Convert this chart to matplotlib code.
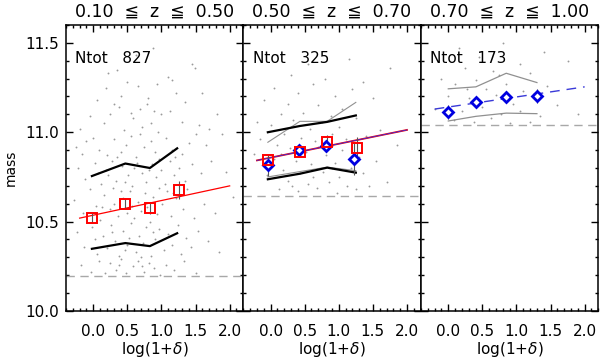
import matplotlib
matplotlib.use("Agg")
import matplotlib.pyplot as plt
import numpy as np
from matplotlib.ticker import MultipleLocator, FormatStrFormatter

plt.rcParams["font.family"] = "DejaVu Sans"
plt.rcParams["axes.linewidth"] = 1.1

# redshift bins
titles = ["0.10  \u2266  z  \u2266  0.50", "0.50  \u2266  z  \u2266  0.70", "0.70  \u2266  z  \u2266  1.00"]
ntot = [827, 325, 173]
mass_cut = [10.195, 10.645, 11.04]

# binned medians (red squares)
red_x1 = [-0.02, 0.47, 0.83, 1.25]
red_y1 = [10.52, 10.60, 10.575, 10.675]
red_e1 = [0.03, 0.03, 0.03, 0.05]
red_x2 = [-0.04, 0.43, 0.83, 1.27]
red_y2 = [10.843, 10.889, 10.944, 10.911]
red_e2 = [0.03, 0.02, 0.04, 0.06]

# binned medians (blue diamonds)
blue_x2 = [-0.04, 0.42, 0.82, 1.22]
blue_y2 = [10.815, 10.90, 10.922, 10.852]
blue_e2 = [0.06, 0.03, 0.03, 0.09]
blue_x3 = [0.0, 0.405, 0.85, 1.30]
blue_y3 = [11.115, 11.167, 11.198, 11.204]
blue_e3 = [0.04, 0.02, 0.03, 0.04]

# percentile curves
pc_x1 = [-0.02, 0.47, 0.83, 1.23]
hi_1 = [10.755, 10.825, 10.80, 10.91]
lo_1 = [10.348, 10.38, 10.363, 10.435]
pc_x2 = [-0.04, 0.43, 0.83, 1.25]
hi_2 = [11.00, 11.035, 11.058, 11.094]
lo_2 = [10.737, 10.768, 10.802, 10.774]
ghi_2 = [10.944, 11.061, 11.061, 11.167]
glo_2 = [10.75, 10.78, 10.805, 10.785]
pc_x3 = [0.0, 0.405, 0.85, 1.30]
ghi_3 = [11.243, 11.254, 11.33, 11.278]
glo_3 = [11.063, 11.089, 11.107, 11.104]

# linear fits (intercept, slope)
fit1 = (10.536, 0.082)
fit2 = (10.858, 0.0775)
fit3 = (11.141, 0.0565)
fit_range = (-0.2, 2.0)

# galaxies (subset)
pts1 = np.array([
    (1.45, 11.38), (1.49, 11.36), (0.22, 11.33), (0.62, 11.43), (1.10, 11.31), (0.35, 11.35), (0.88, 11.47),
    (0.19, 11.25), (0.65, 11.26), (0.94, 11.27), (1.15, 11.29), (1.21, 11.22), (1.60, 11.22), (0.41, 11.20),
    (0.05, 11.18), (0.80, 11.19), (1.35, 11.17), (0.50, 11.28), (0.30, 11.16),
    (1.82, 11.10), (0.37, 11.14), (0.79, 11.16), (0.89, 11.12), (0.58, 11.08), (0.72, 11.03), (1.00, 11.10),
    (0.15, 11.05), (-0.05, 11.09), (1.30, 11.06), (1.55, 11.04), (0.45, 11.01), (0.95, 11.00), (1.12, 11.12),
    (0.25, 11.10), (0.68, 11.13), (1.70, 11.02), (-0.20, 11.02), (0.85, 11.05), (0.55, 11.11),
    (1.89, 10.99), (1.06, 10.97), (1.50, 10.99), (1.65, 10.93), (-0.10, 10.95), (-0.17, 10.88), (0.09, 10.90),
    (0.48, 10.93), (0.62, 10.86), (1.30, 10.88), (0.97, 10.85), (0.30, 10.96), (0.75, 10.92), (0.20, 10.87),
    (0.55, 10.98), (1.15, 10.90), (0.40, 10.89), (0.85, 10.95), (1.40, 10.94), (0.00, 10.97), (0.68, 10.99),
    (1.20, 10.86), (-0.25, 10.92), (0.35, 10.86), (0.90, 10.89),
    (-0.22, 10.80), (-0.12, 10.74), (0.03, 10.83), (0.12, 10.71), (0.18, 10.79), (0.27, 10.84), (0.33, 10.73),
    (0.42, 10.81), (0.51, 10.76), (0.57, 10.70), (0.64, 10.83), (0.71, 10.77), (0.78, 10.72), (0.86, 10.82),
    (0.92, 10.75), (0.99, 10.79), (1.05, 10.71), (1.13, 10.84), (1.18, 10.76), (1.26, 10.80), (1.34, 10.73),
    (1.45, 10.82), (1.58, 10.77), (1.72, 10.84), (1.95, 10.78), (0.46, 10.72), (0.22, 10.76), (0.81, 10.79),
    (0.07, 10.77), (0.60, 10.80),
    (-0.28, 10.62), (-0.15, 10.55), (-0.05, 10.68), (0.04, 10.59), (0.10, 10.51), (0.16, 10.65), (0.24, 10.57),
    (0.29, 10.69), (0.36, 10.53), (0.43, 10.63), (0.49, 10.55), (0.54, 10.67), (0.60, 10.52), (0.66, 10.61),
    (0.70, 10.56), (0.76, 10.66), (0.83, 10.50), (0.88, 10.64), (0.93, 10.54), (1.01, 10.60), (1.08, 10.67),
    (1.14, 10.53), (1.22, 10.63), (1.31, 10.57), (1.38, 10.68), (1.47, 10.52), (1.62, 10.60), (1.78, 10.55),
    (2.05, 10.64), (0.31, 10.60), (0.57, 10.59), (0.79, 10.58), (0.13, 10.58), (0.97, 10.69), (1.17, 10.66),
    (0.40, 10.67),
    (-0.24, 10.44), (-0.14, 10.36), (-0.02, 10.47), (0.06, 10.32), (0.14, 10.42), (0.20, 10.35), (0.26, 10.48),
    (0.32, 10.39), (0.38, 10.31), (0.44, 10.45), (0.50, 10.37), (0.56, 10.49), (0.62, 10.33), (0.67, 10.42),
    (0.73, 10.38), (0.77, 10.47), (0.84, 10.31), (0.91, 10.40), (0.96, 10.46), (1.03, 10.34), (1.10, 10.43),
    (1.16, 10.37), (1.24, 10.48), (1.29, 10.32), (1.36, 10.41), (1.43, 10.36), (1.54, 10.45), (1.68, 10.39),
    (1.85, 10.33), (0.28, 10.44), (0.53, 10.41), (0.70, 10.30), (0.87, 10.44), (0.02, 10.40), (0.46, 10.34),
    (-0.18, 10.26), (-0.03, 10.22), (0.08, 10.28), (0.17, 10.21), (0.25, 10.27), (0.34, 10.23), (0.41, 10.29),
    (0.48, 10.21), (0.58, 10.25), (0.65, 10.28), (0.74, 10.22), (0.82, 10.27), (0.89, 10.24), (0.98, 10.20),
    (1.07, 10.26), (1.19, 10.23), (1.33, 10.28), (1.50, 10.21), (0.37, 10.26), (0.72, 10.25),
])
pts2 = np.array([
    (0.10, 11.43), (0.55, 11.38), (1.15, 11.41), (1.75, 11.36), (0.30, 11.32), (0.80, 11.30), (1.35, 11.28),
    (0.05, 11.25), (0.40, 11.22), (0.62, 11.27), (0.95, 11.20), (1.20, 11.24), (-0.10, 11.18), (0.25, 11.16),
    (0.70, 11.15), (1.05, 11.13), (1.50, 11.19), (0.48, 11.11), (0.15, 11.10), (0.88, 11.09),
    (-0.20, 11.06), (0.00, 11.04), (0.33, 11.07), (0.58, 11.02), (0.75, 11.06), (1.00, 11.03), (1.25, 11.08),
    (1.60, 11.01), (0.20, 10.99), (0.45, 10.97), (0.65, 10.95), (0.90, 10.99), (1.10, 10.96), (1.40, 10.98),
    (-0.15, 10.96), (0.10, 10.93), (0.28, 10.91), (0.52, 10.89), (0.70, 10.92), (0.82, 10.87), (1.05, 10.90),
    (1.30, 10.86), (1.85, 10.93), (-0.25, 10.88), (0.05, 10.85), (0.38, 10.84), (0.60, 10.82), (0.95, 10.83),
    (1.18, 10.80), (1.55, 10.84), (0.18, 10.79), (0.43, 10.77), (0.77, 10.78), (1.00, 10.75), (1.35, 10.77),
    (-0.05, 10.76), (0.25, 10.73), (0.55, 10.71), (0.85, 10.72), (1.12, 10.70), (0.12, 10.68), (0.40, 10.67),
    (0.68, 10.69), (0.98, 10.66), (1.25, 10.68), (1.70, 10.72), (0.32, 10.70), (0.62, 10.75), (0.90, 10.80),
    (0.15, 10.88), (1.45, 10.70),
])
pts3 = np.array([
    (0.15, 11.47), (0.80, 11.50), (1.40, 11.45), (0.45, 11.42), (1.05, 11.38), (0.25, 11.36), (0.65, 11.34),
    (1.20, 11.33), (1.75, 11.40), (-0.10, 11.30), (0.10, 11.27), (0.40, 11.29), (0.55, 11.24), (0.85, 11.27),
    (1.10, 11.23), (1.45, 11.26), (0.00, 11.20), (0.30, 11.19), (0.70, 11.21), (0.95, 11.16), (1.30, 11.18),
    (1.60, 11.15), (-0.20, 11.13), (0.20, 11.12), (0.50, 11.14), (0.78, 11.10), (1.05, 11.12), (1.35, 11.09),
    (0.08, 11.07), (0.38, 11.06), (0.62, 11.08), (0.90, 11.05), (1.20, 11.06), (1.90, 11.10), (0.28, 11.24),
    (0.75, 11.32),
])

fig = plt.figure(figsize=(6.0, 3.62), dpi=100)
lefts = [66 / 600, 243.3 / 600, 421 / 600]
w = 177.3 / 600
bot = 1 - 311 / 362
h = 286 / 362
axes = [fig.add_axes([l, bot, w, h]) for l in lefts]

dot = dict(s=1.8, color="#9a9a9a", lw=0)
axes[0].scatter(pts1[:, 0], pts1[:, 1], **dot)
axes[1].scatter(pts2[:, 0], pts2[:, 1], **dot)
axes[2].scatter(pts3[:, 0], pts3[:, 1], **dot)

xf = np.array(fit_range)

# panel 1
ax = axes[0]
ax.plot(xf, fit1[0] + fit1[1] * xf, color="red", lw=0.9)
ax.plot(pc_x1, hi_1, color="black", lw=1.6)
ax.plot(pc_x1, lo_1, color="black", lw=1.6)
ax.errorbar(red_x1, red_y1, yerr=red_e1, fmt="s", ms=7, mfc="none", mec="red", mew=1.4,
            ecolor="#555555", elinewidth=0.8, capsize=0)

# panel 2
ax = axes[1]
ax.plot(pc_x2, ghi_2, color="#909090", lw=0.8)
ax.plot(pc_x2, glo_2, color="#909090", lw=0.8)
ax.plot(pc_x2, hi_2, color="black", lw=1.6)
ax.plot(pc_x2, lo_2, color="black", lw=1.6)
ax.plot(xf, fit2[0] + fit2[1] * xf, color="red", lw=1.3)
ax.plot(xf, fit2[0] + fit2[1] * xf, color="#3030e0", lw=0.6)
ax.errorbar(blue_x2, blue_y2, yerr=blue_e2, fmt="D", ms=5.5, mfc="white", mec="#0000e0", mew=2.0,
            ecolor="#555555", elinewidth=0.8, capsize=0)
ax.errorbar(red_x2, red_y2, yerr=red_e2, fmt="s", ms=7, mfc="none", mec="red", mew=1.4,
            ecolor="#555555", elinewidth=0.8, capsize=0)

# panel 3
ax = axes[2]
ax.plot(pc_x3, ghi_3, color="#909090", lw=0.9)
ax.plot(pc_x3, glo_3, color="#909090", lw=0.9)
ax.plot(xf, fit3[0] + fit3[1] * xf, color="#3a3ad8", lw=1.0, dashes=(7, 5))
ax.errorbar(blue_x3, blue_y3, yerr=blue_e3, fmt="D", ms=5.5, mfc="white", mec="#0000e0", mew=2.0,
            ecolor="#555555", elinewidth=0.8, capsize=0)

for i, ax in enumerate(axes):
    ax.axhline(mass_cut[i], color="#a8a8a8", lw=1.0, dashes=(6, 4))
    ax.set_xlim(-0.4, 2.2)
    ax.set_ylim(10.0, 11.6)
    ax.xaxis.set_major_locator(MultipleLocator(0.5))
    ax.xaxis.set_minor_locator(MultipleLocator(0.1))
    ax.yaxis.set_major_locator(MultipleLocator(0.5))
    ax.yaxis.set_minor_locator(MultipleLocator(0.1))
    ax.xaxis.set_major_formatter(FormatStrFormatter("%.1f"))
    ax.yaxis.set_major_formatter(FormatStrFormatter("%.1f"))
    ax.tick_params(which="both", direction="in", top=True, right=True, width=1.0)
    ax.tick_params(which="major", length=5)
    ax.tick_params(which="minor", length=2.5)
    ax.tick_params(axis="x", which="major", labelsize=11, pad=9)
    ax.tick_params(axis="y", which="major", labelsize=11, pad=5)
    ax.set_title(titles[i], fontsize=12.5, pad=6)
    ax.text(0.053, 0.868, "Ntot   %d" % ntot[i], transform=ax.transAxes, fontsize=11)
    ax.set_xlabel(r"log(1+$\delta$)", fontsize=11, labelpad=1)
    if i > 0:
        ax.tick_params(axis="y", labelleft=False)

axes[0].set_ylabel("mass", fontsize=10)
axes[0].yaxis.set_label_coords(-0.27, 0.5)

fig.savefig("out.png", dpi=100)
